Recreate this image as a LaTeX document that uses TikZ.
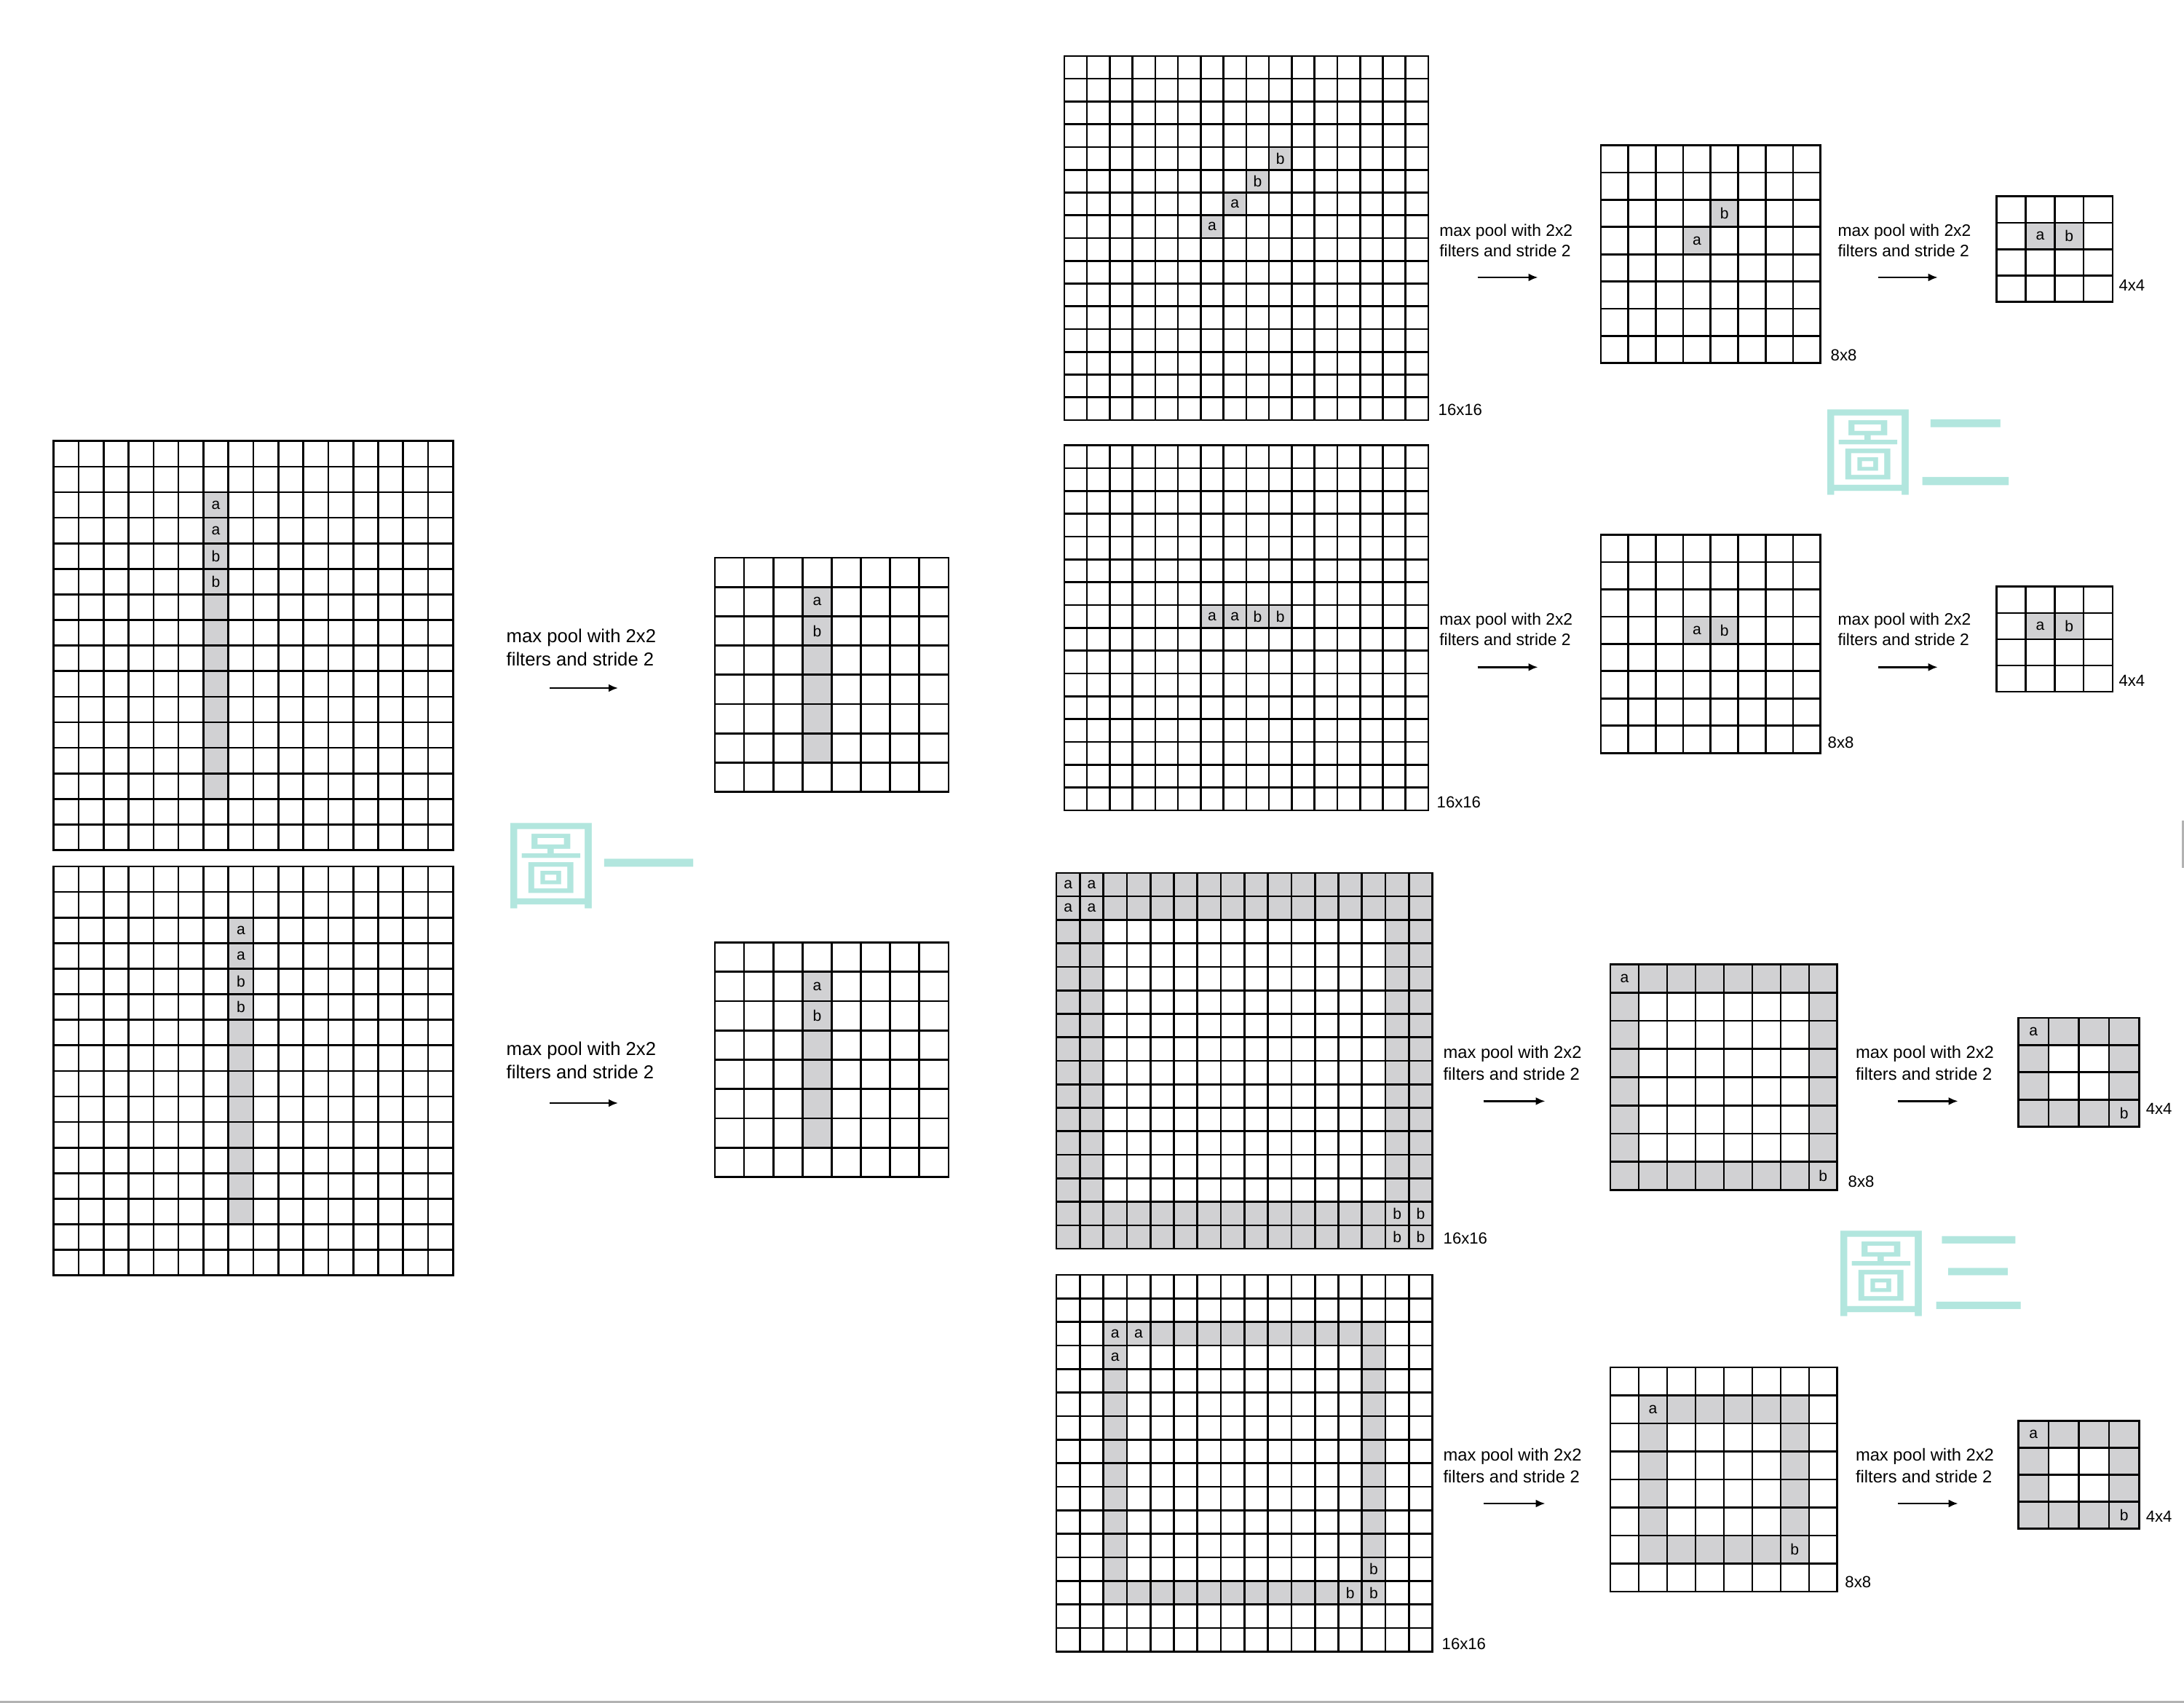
\documentclass[tikz,border=0pt]{standalone}
\usepackage{fontspec}
\setmainfont{Liberation Sans}
\newfontfamily\cjkfont{Noto Sans CJK TC}
\usetikzlibrary{arrows.meta}
\definecolor{cellgray}{RGB}{209,209,211}
\definecolor{tagteal}{RGB}{178,230,222}
% #1 name, #2 top-left, #3 cells per side, #4 cell width, #5 cell height,
% #6 shaded blocks c1/r1/c2/r2, #7 letters c/r/letter
\newcommand{\featmap}[7]{%
  \begin{scope}[shift={#2}, x=#4cm, y=-#5cm]
    \foreach \ca/\ra/\cb/\rb in {#6}
      \fill[litcell] (\ca,\ra) rectangle (\cb+1,\rb+1);
    \foreach \cx/\ry/\lt in {#7}
      \node[lettr] (#1-\cx-\ry) at (\cx+0.5,\ry+0.5) {\lt};
    \foreach \i in {0,...,#3}{
      \draw[cellline] (\i,0) -- (\i,#3);
      \draw[cellline] (0,\i) -- (#3,\i);
    }
    \coordinate (#1-nw) at (0,0);
    \coordinate (#1-se) at (#3,#3);
  \end{scope}}
\tikzset{
  cellline/.style={line width=0.75pt, line cap=rect},
  litcell/.style ={fill=cellgray},
  lettr/.style   ={font=\fontsize{6}{6}\selectfont, inner sep=0pt},
  opnote/.style  ={anchor=west, align=left, inner sep=0pt},
  opbig/.style   ={opnote, font=\fontsize{7.3}{9.1}\selectfont},
  opsmall/.style ={opnote, font=\fontsize{6.5}{8}\selectfont},
  opmid/.style   ={opnote, font=\fontsize{6.75}{8.4}\selectfont},
  sizelbl/.style ={anchor=west, inner sep=0pt, font=\fontsize{6.3}{7}\selectfont},
  poolarr/.style ={-{Latex[length=1.3mm,width=1.1mm]}, line width=0.7pt},
  figtag/.style  ={font=\cjkfont\fontsize{38}{38}\selectfont, text=tagteal,
                   inner sep=0pt},
  edgemark/.style={draw=black!30, line width=0.3mm},
}

\begin{document}
\begin{tikzpicture}
  \useasboundingbox (0,0) rectangle (30,-23.39);

  % figure 1: vertical line shifted by one column
  \featmap{L1}{(0.737,-6.058)}{16}{0.3429}{0.3511}{6/2/6/13}
    {6/2/a,6/3/a,6/4/b,6/5/b}
  \featmap{L2}{(0.737,-11.90)}{16}{0.3429}{0.3511}{7/2/7/13}
    {7/2/a,7/3/a,7/4/b,7/5/b}
  \featmap{M1}{(9.82,-7.66)}{8}{0.401}{0.402}{3/1/3/6}{3/1/a,3/2/b}
  \featmap{M2}{(9.82,-12.945)}{8}{0.401}{0.4025}{3/1/3/6}{3/1/a,3/2/b}

  \node[opbig] (L1-op) at (6.95,-8.89) {max pool with 2x2\\filters and stride 2};
  \coordinate (L1-a0) at (7.55,-9.45);
  \coordinate (L1-a1) at (8.49,-9.45);
  \draw[poolarr] (L1-a0) -- (L1-a1);
  \node[opbig] (L2-op) at (6.95,-14.56) {max pool with 2x2\\filters and stride 2};
  \coordinate (L2-a0) at (7.55,-15.15);
  \coordinate (L2-a1) at (8.49,-15.15);
  \draw[poolarr] (L2-a0) -- (L2-a1);
  \node[figtag] (tag1) at (8.24,-11.89) {圖一};

  % figure 2: diagonal and horizontal strokes
  \featmap{T1}{(14.618,-0.769)}{16}{0.3126}{0.3126}
    {9/4/9/4,8/5/8/5,7/6/7/6,6/7/6/7}{9/4/b,8/5/b,7/6/a,6/7/a}
  \featmap{T2}{(14.618,-6.118)}{16}{0.3126}{0.3133}
    {6/7/9/7}{6/7/a,7/7/a,8/7/b,9/7/b}
  \featmap{U1}{(21.988,-1.996)}{8}{0.3773}{0.374}{4/2/4/2,3/3/3/3}{4/2/b,3/3/a}
  \featmap{U2}{(21.988,-7.345)}{8}{0.3773}{0.3746}{3/3/4/3}{3/3/a,4/3/b}
  \featmap{V1}{(27.427,-2.698)}{4}{0.398}{0.362}{1/1/2/1}{1/1/a,2/1/b}
  \featmap{V2}{(27.427,-8.058)}{4}{0.398}{0.3605}{1/1/2/1}{1/1/a,2/1/b}

  \node[opsmall] (T1-op) at (19.766,-3.304) {max pool with 2x2\\filters and stride 2};
  \coordinate (T1-a0) at (20.296,-3.81);
  \coordinate (T1-a1) at (21.125,-3.81);
  \draw[poolarr] (T1-a0) -- (T1-a1);
  \node[opsmall] (U1-op) at (25.238,-3.304) {max pool with 2x2\\filters and stride 2};
  \coordinate (U1-a0) at (25.80,-3.81);
  \coordinate (U1-a1) at (26.617,-3.81);
  \draw[poolarr] (U1-a0) -- (U1-a1);
  \node[opsmall] (T2-op) at (19.766,-8.647) {max pool with 2x2\\filters and stride 2};
  \coordinate (T2-a0) at (20.296,-9.163);
  \coordinate (T2-a1) at (21.125,-9.163);
  \draw[poolarr] (T2-a0) -- (T2-a1);
  \node[opsmall] (U2-op) at (25.238,-8.647) {max pool with 2x2\\filters and stride 2};
  \coordinate (U2-a0) at (25.80,-9.163);
  \coordinate (U2-a1) at (26.617,-9.163);
  \draw[poolarr] (U2-a0) -- (U2-a1);

  \node[sizelbl] (T1-lbl) at (19.75,-5.63)  {16x16};
  \node[sizelbl] (T2-lbl) at (19.73,-11.02) {16x16};
  \node[sizelbl] (U1-lbl) at (25.14,-4.876) {8x8};
  \node[sizelbl] (U2-lbl) at (25.10,-10.20) {8x8};
  \node[sizelbl] (V1-lbl) at (29.098,-3.92) {4x4};
  \node[sizelbl] (V2-lbl) at (29.098,-9.35) {4x4};
  \node[figtag] (tag2) at (26.33,-6.21) {圖二};

  % figure 3: border ring and inner frame
  \featmap{B1}{(14.511,-11.989)}{16}{0.3228}{0.3226}
    {0/0/15/1,0/14/15/15,0/2/1/13,14/2/15/13}
    {0/0/a,1/0/a,0/1/a,1/1/a,14/14/b,15/14/b,14/15/b,15/15/b}
  \featmap{B2}{(14.511,-17.511)}{16}{0.3228}{0.3233}
    {2/2/13/2,2/13/13/13,2/3/2/12,13/3/13/12}
    {2/2/a,3/2/a,2/3/a,13/12/b,12/13/b,13/13/b}
  \featmap{W1}{(22.12,-13.246)}{8}{0.3897}{0.3873}
    {0/0/7/0,0/7/7/7,0/1/0/6,7/1/7/6}{0/0/a,7/7/b}
  \featmap{W2}{(22.12,-18.78)}{8}{0.3897}{0.385}
    {1/1/6/1,1/6/6/6,1/2/1/5,6/2/6/5}{1/1/a,6/6/b}
  \featmap{X1}{(27.725,-13.98)}{4}{0.4145}{0.374}
    {0/0/3/0,0/3/3/3,0/1/0/2,3/1/3/2}{0/0/a,3/3/b}
  \featmap{X2}{(27.725,-19.513)}{4}{0.4145}{0.37}
    {0/0/3/0,0/3/3/3,0/1/0/2,3/1/3/2}{0/0/a,3/3/b}

  \node[opmid] (B1-op) at (19.819,-14.602) {max pool with 2x2\\filters and stride 2};
  \coordinate (B1-a0) at (20.376,-15.124);
  \coordinate (B1-a1) at (21.225,-15.124);
  \draw[poolarr] (B1-a0) -- (B1-a1);
  \node[opmid] (W1-op) at (25.483,-14.602) {max pool with 2x2\\filters and stride 2};
  \coordinate (W1-a0) at (26.067,-15.124);
  \coordinate (W1-a1) at (26.896,-15.124);
  \draw[poolarr] (W1-a0) -- (W1-a1);
  \node[opmid] (B2-op) at (19.819,-20.129) {max pool with 2x2\\filters and stride 2};
  \coordinate (B2-a0) at (20.376,-20.65);
  \coordinate (B2-a1) at (21.225,-20.65);
  \draw[poolarr] (B2-a0) -- (B2-a1);
  \node[opmid] (W2-op) at (25.483,-20.129) {max pool with 2x2\\filters and stride 2};
  \coordinate (W2-a0) at (26.067,-20.65);
  \coordinate (W2-a1) at (26.896,-20.65);
  \draw[poolarr] (W2-a0) -- (W2-a1);

  \node[sizelbl] (B1-lbl) at (19.82,-17.01)  {16x16};
  \node[sizelbl] (B2-lbl) at (19.80,-22.58)  {16x16};
  \node[sizelbl] (W1-lbl) at (25.38,-16.227) {8x8};
  \node[sizelbl] (W2-lbl) at (25.337,-21.73) {8x8};
  \node[sizelbl] (X1-lbl) at (29.47,-15.23)  {4x4};
  \node[sizelbl] (X2-lbl) at (29.47,-20.833) {4x4};
  \node[figtag] (tag3) at (26.51,-17.495) {圖三};

  % screenshot edges
  \draw[edgemark] (0,-23.375) -- (30,-23.375);
  \draw[edgemark] (29.985,-11.27) -- (29.985,-11.92);
\end{tikzpicture}
\end{document}
